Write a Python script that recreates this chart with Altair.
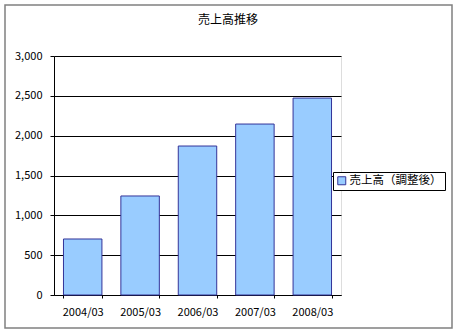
import altair as alt
import pandas as pd

chart_title = "売上高推移"
periods = ["2004/03", "2005/03", "2006/03", "2007/03", "2008/03"]
sales = [703, 1243, 1870, 2146, 2472]
series_name = "売上高（調整後）"
y_ticks = [0, 500, 1000, 1500, 2000, 2500, 3000]

df = pd.DataFrame({"period": periods, "sales": sales, "series": [series_name] * len(periods)})

FONT = "Noto Sans CJK JP"

base = alt.Chart(df)

bars = base.mark_bar(color="#99CCFF", stroke="#333399", strokeWidth=1).encode(
    x=alt.X("period:N", sort=periods, title=None,
            scale=alt.Scale(paddingInner=0.33, paddingOuter=0.165),
            axis=alt.Axis(labelAngle=0, labelFontSize=11, labelFont=FONT, labelColor="#000",
                          labelPadding=8, tickBand="extent", tickSize=3, tickColor="#000",
                          domainColor="#000", grid=False)),
    y=alt.Y("sales:Q", title=None,
            scale=alt.Scale(domain=[0, 3000], nice=False),
            axis=alt.Axis(values=y_ticks, format=",d", labelFontSize=11, labelFont=FONT,
                          labelColor="#000", labelPadding=8, tickSize=4, tickColor="#000",
                          domainColor="#000", gridColor="#000", gridWidth=1)),
    fill=alt.Fill("series:N", scale=alt.Scale(range=["#99CCFF"]),
                  legend=alt.Legend(title=None, orient="none", legendX=279, legendY=116,
                                    symbolType="square", symbolSize=64, symbolStrokeColor="#333399",
                                    symbolStrokeWidth=1, labelFont=FONT, labelFontSize=11.5,
                                    labelColor="#000", strokeColor="#000", fillColor="#ffffff",
                                    padding=3, labelOffset=2)),
)

frame = alt.Chart(pd.DataFrame({"a": [0]})).mark_rect(
    fill=None, stroke="#808080", strokeWidth=1.5, clip=False
).encode(
    x=alt.value(-49), x2=alt.value(398), y=alt.value(-51), y2=alt.value(272)
)

title_text = alt.Chart(pd.DataFrame({"t": [chart_title]})).mark_text(
    font=FONT, fontSize=12, color="#000", align="center", baseline="middle", clip=False
).encode(
    text="t:N", x=alt.value(174), y=alt.value(-36)
)

chart = alt.layer(frame, bars, title_text).properties(
    width=287, height=239,
    padding={"left": 54, "top": 56, "right": 116, "bottom": 39},
    autosize=alt.AutoSizeParams(type="none"),
).configure_view(stroke="#999999", strokeWidth=1).configure(background="#ffffff")

chart.save("out.html", embed_options={"renderer": "svg", "actions": False})
